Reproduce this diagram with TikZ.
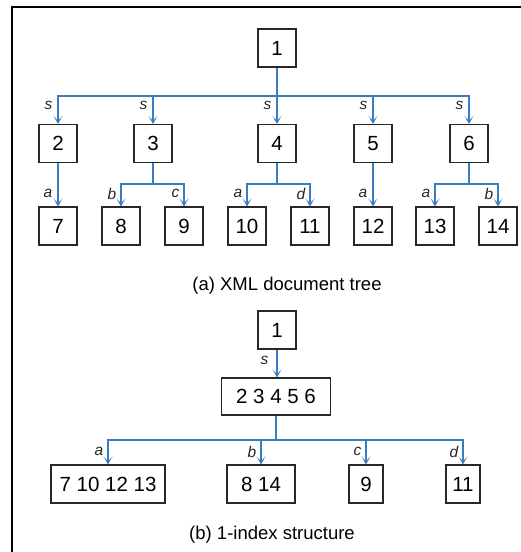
\documentclass[tikz,border=0pt]{standalone}
\usepackage{fontspec}
\setmainfont{Liberation Sans}
\usetikzlibrary{arrows.meta}
\definecolor{linkblue}{RGB}{58,124,192}
\definecolor{boxline}{RGB}{40,40,40}
\begin{document}
\begin{tikzpicture}[x=1pt,y=-1pt,
  box/.style={draw=boxline,line width=1.2pt,inner sep=0pt,minimum width=38pt,minimum height=38pt,
    font=\fontsize{20.5}{24}\selectfont},
  link/.style={draw=linkblue,line width=1.3pt},
  arr/.style={link,-{Stealth[length=8pt,width=9pt,inset=5pt]}},
  lab/.style={font=\fontsize{15.5}{18}\selectfont\itshape,inner sep=0pt,anchor=east,text=black!85},
  captext/.style={font=\fontsize{18.5}{22}\selectfont,anchor=base,inner sep=0pt}]
\useasboundingbox (0,0) rectangle (521,552);
\clip (0,0) rectangle (521,552);
% outer frame
\draw[line width=2pt,black] (12,580) -- (12,7) -- (560,7);

% ---------- (a) XML document tree ----------
\node[box] (t1) at (277,48) {1};
\node[box] (t2) at (58,143.5) {2};
\node[box] (t3) at (153,143.5) {3};
\node[box] (t4) at (277,143.5) {4};
\node[box] (t5) at (373,143.5) {5};
\node[box] (t6) at (469,143.5) {6};
\node[box] (t7) at (58,226) {7};
\node[box] (t8) at (121,226) {8};
\node[box] (t9) at (184,226) {9};
\node[box] (t10) at (247,226) {10};
\node[box] (t11) at (310,226) {11};
\node[box] (t12) at (373,226) {12};
\node[box] (t13) at (435,226) {13};
\node[box] (t14) at (498,226) {14};

\coordinate (ba) at (277,96);
\draw[link] (t1.south) -- (ba);
\foreach \n in {t2,t3,t5,t6}
  \draw[arr] (ba) -| node[lab,pos=0.66,xshift=-5pt] {s} (\n.north);
\draw[arr] (ba) -- node[lab,pos=0.32,xshift=-5pt] {s} (t4.north);

\draw[arr] (t2.south) -- node[lab,pos=0.7,xshift=-5pt] {a} (t7.north);
\draw[arr] (t5.south) -- node[lab,pos=0.7,xshift=-5pt] {a} (t12.north);

\coordinate (b3) at (153,184);
\coordinate (b4) at (277,184);
\coordinate (b6) at (469,184);
\draw[link] (t3.south) -- (b3);
\draw[link] (t4.south) -- (b4);
\draw[link] (t6.south) -- (b6);
\draw[arr] (b3) -| node[lab,pos=0.72,xshift=-4pt] {b} (t8.north);
\draw[arr] (b3) -| node[lab,pos=0.72,xshift=-4pt] {c} (t9.north);
\draw[arr] (b4) -| node[lab,pos=0.72,xshift=-4pt] {a} (t10.north);
\draw[arr] (b4) -| node[lab,pos=0.72,xshift=-4pt] {d} (t11.north);
\draw[arr] (b6) -| node[lab,pos=0.72,xshift=-4pt] {a} (t13.north);
\draw[arr] (b6) -| node[lab,pos=0.72,xshift=-4pt] {b} (t14.north);

\node[captext] (capa) at (287,290) {(a) XML document tree};

% ---------- (b) 1-index structure ----------
\node[box] (i1) at (277,330) {1};
\node[box,minimum width=109pt,minimum height=37pt] (i2) at (276,396.5) {2 3 4 5 6};
\node[box,minimum width=114pt] (ia) at (108,484) {7 10 12 13};
\node[box,minimum width=68pt] (ib) at (261,484) {8 14};
\node[box,minimum width=34pt] (ic) at (366,484) {9};
\node[box,minimum width=34pt] (id) at (463,484) {11};

\draw[arr] (i1.south) -- node[lab,pos=0.4,xshift=-8pt] {s} (i1.south |- i2.north);
\coordinate (bb) at (i2.south |- 0,440);
\draw[link] (i2.south) -- (bb);
\draw[arr] (bb) -| node[lab,pos=0.74,xshift=-4pt] {a} (ia.north);
\draw[arr] (bb) -| node[lab,pos=0.74,xshift=-4pt] {b} (ib.north);
\draw[arr] (bb) -| node[lab,pos=0.74,xshift=-4pt] {c} (ic.north);
\draw[arr] (bb) -| node[lab,pos=0.74,xshift=-4pt] {d} (id.north);

\node[captext] (capb) at (272,539) {(b) 1-index structure};
\end{tikzpicture}
\end{document}
